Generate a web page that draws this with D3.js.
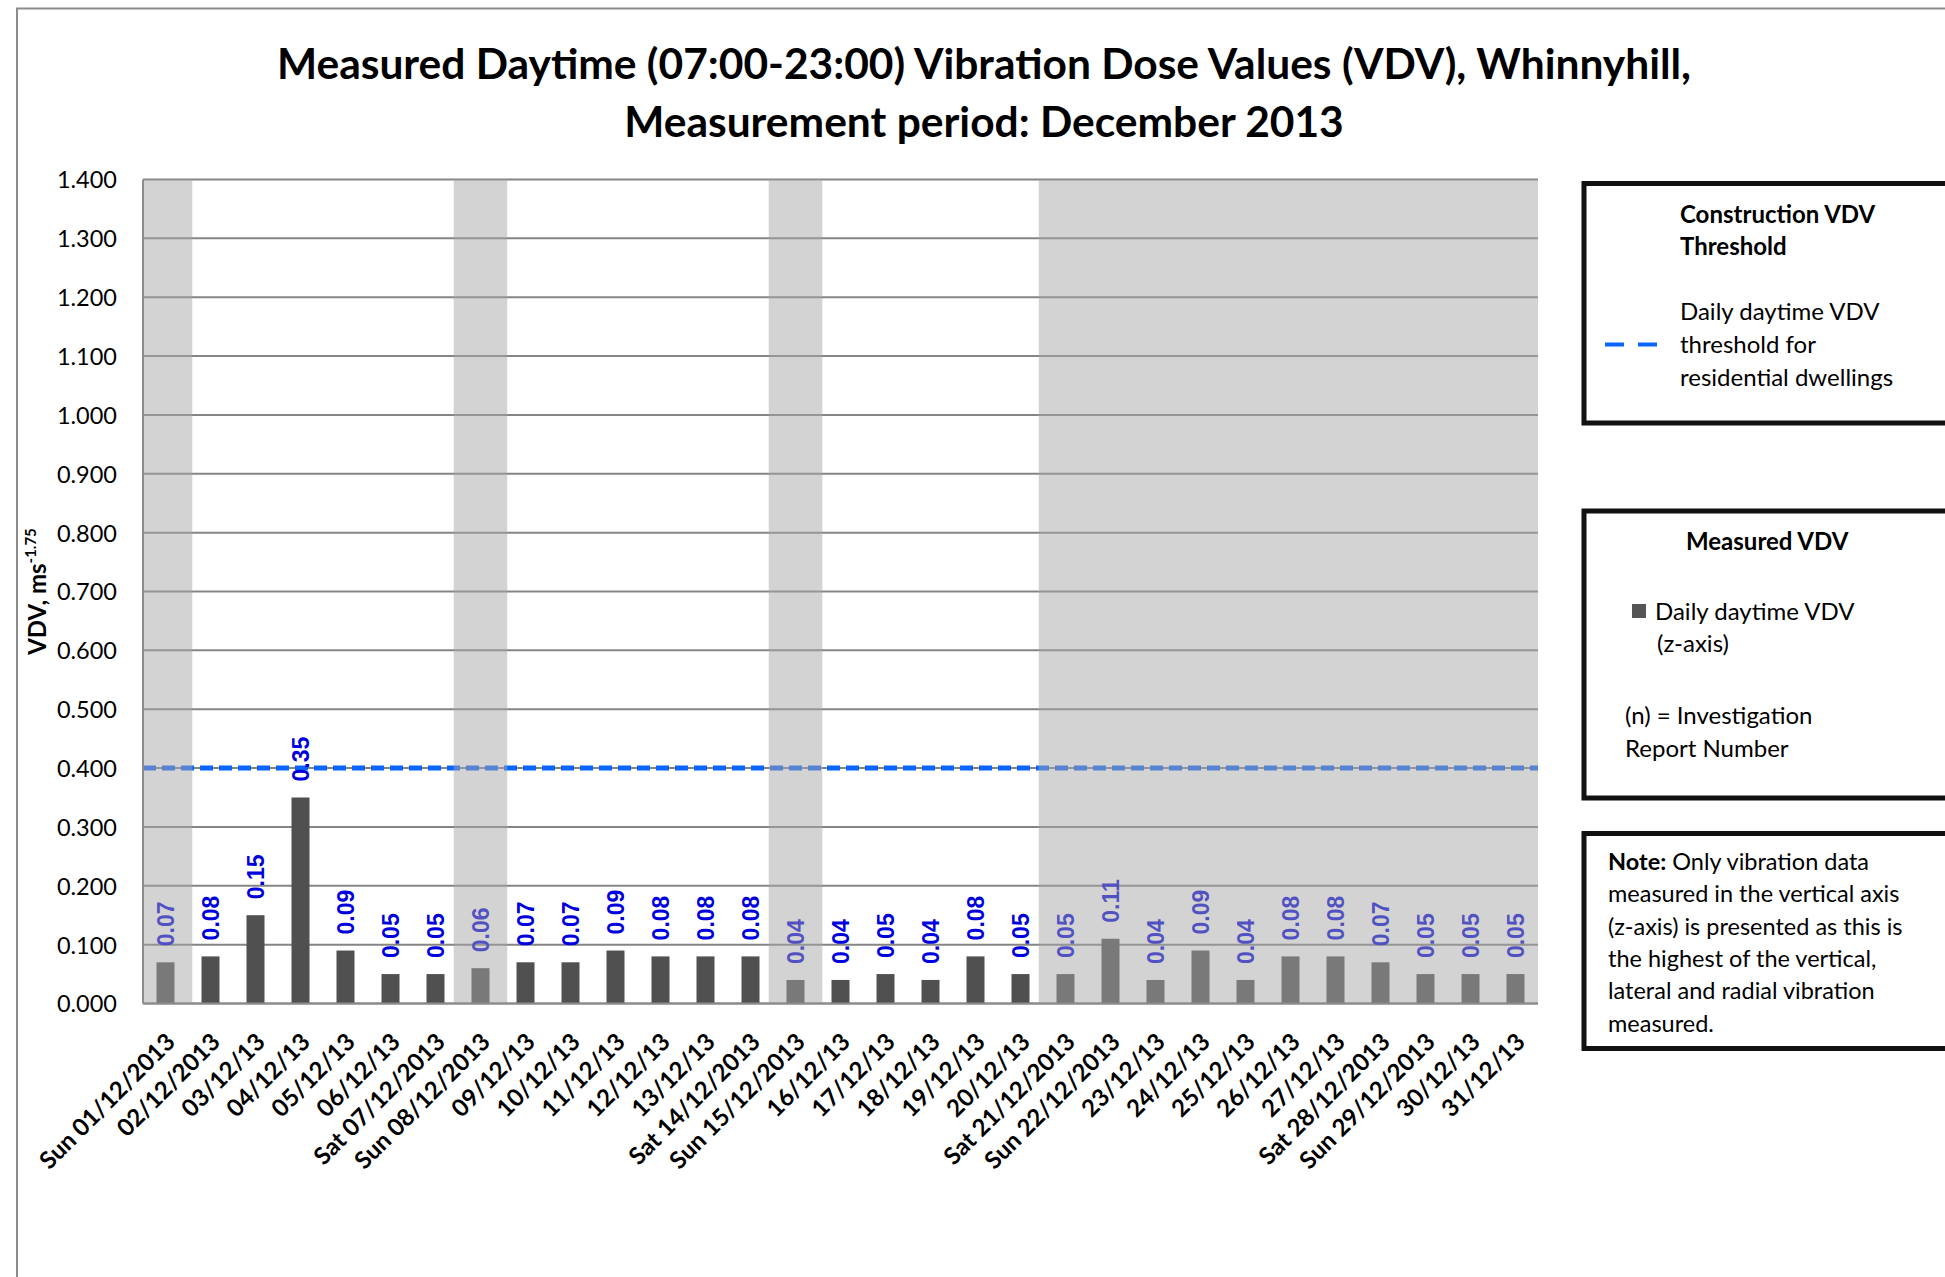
<!DOCTYPE html>
<html>
<head>
<meta charset="utf-8">
<script src="https://cdn.jsdelivr.net/npm/d3@7"></script>
<style>
  html, body { margin: 0; padding: 0; background: #fff; }
  svg { display: block; }
</style>
</head>
<body>
<svg id="chart" width="1945" height="1277"></svg>
<script>
// Daily daytime VDV (z-axis), December 2013
const dayLabels = [
  "Sun 01/12/2013", "02/12/2013", "03/12/13", "04/12/13", "05/12/13", "06/12/13",
  "Sat 07/12/2013", "Sun 08/12/2013", "09/12/13", "10/12/13", "11/12/13", "12/12/13",
  "13/12/13", "Sat 14/12/2013", "Sun 15/12/2013", "16/12/13", "17/12/13", "18/12/13",
  "19/12/13", "20/12/13", "Sat 21/12/2013", "Sun 22/12/2013", "23/12/13", "24/12/13",
  "25/12/13", "26/12/13", "27/12/13", "Sat 28/12/2013", "Sun 29/12/2013", "30/12/13", "31/12/13"
];
const vdvValues = [
  0.07, 0.08, 0.15, 0.35, 0.09, 0.05, 0.05, 0.06, 0.07, 0.07, 0.09, 0.08, 0.08, 0.08, 0.04, 0.04,
  0.05, 0.04, 0.08, 0.05, 0.05, 0.11, 0.04, 0.09, 0.04, 0.08, 0.08, 0.07, 0.05, 0.05, 0.05
];
// Days with no construction activity (Sundays and the holiday period)
const shadedDays = [
  "Sun 01/12/2013", "Sun 08/12/2013", "Sun 15/12/2013",
  "Sat 21/12/2013", "Sun 22/12/2013", "23/12/13", "24/12/13", "25/12/13", "26/12/13",
  "27/12/13", "Sat 28/12/2013", "Sun 29/12/2013", "30/12/13", "31/12/13"
];
const thresholdValue = 0.4;
const yTickValues = [0, 0.1, 0.2, 0.3, 0.4, 0.5, 0.6, 0.7, 0.8, 0.9, 1.0, 1.1, 1.2, 1.3, 1.4];

const titleLines = [
  "Measured Daytime (07:00-23:00) Vibration Dose Values (VDV), Whinnyhill,",
  "Measurement period: December 2013"
];

const svg = d3.select("#chart");
const font = "Lato, 'Open Sans', sans-serif";

const plot = { left: 143, right: 1538, top: 179.5, bottom: 1003.5 };

const x = d3.scaleBand().domain(dayLabels).range([plot.left, plot.right]).padding(0);
const y = d3.scaleLinear().domain([0, 1.4]).range([plot.bottom, plot.top]);

// outer chart frame
svg.append("rect")
  .attr("x", 17).attr("y", 8.5).attr("width", 2000).attr("height", 1400)
  .attr("fill", "none").attr("stroke", "#8c8c8c").attr("stroke-width", 2);

// title
svg.append("g").selectAll("text").data(titleLines).join("text")
  .attr("x", 984).attr("y", (d, i) => 79 + i * 58)
  .attr("text-anchor", "middle")
  .attr("font-family", font).attr("font-weight", 700).attr("font-size", 42.5)
  .attr("fill", "#000")
  .text(d => d);

// horizontal gridlines
svg.append("g").selectAll("line").data(yTickValues).join("line")
  .attr("x1", plot.left).attr("x2", plot.right)
  .attr("y1", d => y(d)).attr("y2", d => y(d))
  .attr("stroke", "#858585").attr("stroke-width", 2);

// y axis labels
const yAxis = d3.axisLeft(y).tickValues(yTickValues).tickFormat(d3.format(".3f")).tickSize(0).tickPadding(26);
const gy = svg.append("g").attr("transform", `translate(${plot.left},0)`).call(yAxis);
gy.select(".domain").remove();
gy.selectAll("text")
  .attr("font-family", font).attr("font-size", 23.5).attr("fill", "#000").attr("dy", "0.36em");

// y axis title
const yTitle = svg.append("text")
  .attr("transform", `translate(46,${(plot.top + plot.bottom) / 2}) rotate(-90)`)
  .attr("text-anchor", "middle")
  .attr("font-family", font).attr("font-weight", 700).attr("font-size", 24)
  .attr("fill", "#000");
yTitle.append("tspan").text("VDV, ms");
yTitle.append("tspan").attr("dy", -10).attr("font-size", 15).text("-1.75");

// bars
const data = dayLabels.map((d, i) => ({ day: d, v: vdvValues[i] }));
const barW = x.bandwidth() * 0.4;
svg.append("g").selectAll("rect").data(data).join("rect")
  .attr("x", d => x(d.day) + (x.bandwidth() - barW) / 2)
  .attr("width", barW)
  .attr("y", d => y(d.v))
  .attr("height", d => y(0) - y(d.v))
  .attr("fill", "#505050");

// threshold line
svg.append("line")
  .attr("x1", plot.left).attr("x2", plot.right)
  .attr("y1", y(thresholdValue)).attr("y2", y(thresholdValue))
  .attr("stroke", "#0a64ff").attr("stroke-width", 5)
  .attr("stroke-dasharray", "13,6");

// value labels
svg.append("g").selectAll("text").data(data).join("text")
  .attr("transform", d => `translate(${x(d.day) + x.bandwidth() / 2},${y(d.v) - 16}) rotate(-90)`)
  .attr("dy", "0.36em")
  .attr("font-family", "'Liberation Sans', Arial, sans-serif")
  .attr("font-weight", 700).attr("font-size", 23)
  .attr("fill", "#0000dc")
  .text(d => d3.format(".2f")(d.v));

// translucent shading over non-working days, merged into contiguous runs
const shadeHalf = x.bandwidth() * 0.595;
const shadedIdx = shadedDays.map(d => dayLabels.indexOf(d)).sort((a, b) => a - b);
const runs = [];
shadedIdx.forEach(i => {
  const last = runs[runs.length - 1];
  if (last && last.end === i - 1) last.end = i;
  else runs.push({ start: i, end: i });
});
const runX0 = r => Math.max(plot.left, x(dayLabels[r.start]) + x.bandwidth() / 2 - shadeHalf);
const runX1 = r => Math.min(plot.right, x(dayLabels[r.end]) + x.bandwidth() / 2 + shadeHalf);
svg.append("g").selectAll("rect").data(runs).join("rect")
  .attr("x", runX0)
  .attr("width", r => runX1(r) - runX0(r))
  .attr("y", plot.top)
  .attr("height", plot.bottom - plot.top)
  .attr("fill", "rgb(166,166,166)").attr("fill-opacity", 0.49);

// axis lines
svg.append("line").attr("x1", plot.left).attr("x2", plot.left)
  .attr("y1", plot.top).attr("y2", plot.bottom)
  .attr("stroke", "#8c8c8c").attr("stroke-width", 2);
svg.append("line").attr("x1", plot.left).attr("x2", plot.right)
  .attr("y1", plot.bottom).attr("y2", plot.bottom)
  .attr("stroke", "#8c8c8c").attr("stroke-width", 2);

// x axis labels
const xAxis = d3.axisBottom(x).tickSize(0);
const gx = svg.append("g").attr("transform", `translate(0,${plot.bottom})`).call(xAxis);
gx.select(".domain").remove();
gx.selectAll("text")
  .attr("x", 0).attr("y", 0).attr("dy", 0)
  .attr("transform", "translate(11,40) rotate(-45)")
  .attr("text-anchor", "end")
  .attr("font-family", font).attr("font-weight", 700).attr("font-size", 24)
  .attr("fill", "#000");

// legend boxes
const boxes = [
  { y: 183.5, h: 239.5 },
  { y: 511, h: 287 },
  { y: 833.5, h: 215 }
];
svg.append("g").selectAll("rect").data(boxes).join("rect")
  .attr("x", 1584).attr("y", d => d.y).attr("width", 420).attr("height", d => d.h)
  .attr("fill", "#fff").attr("stroke", "#111").attr("stroke-width", 5);

function textLine(tx, ty, str, weight) {
  return svg.append("text").attr("x", tx).attr("y", ty)
    .attr("font-family", font).attr("font-size", 24)
    .attr("font-weight", weight || 400).attr("fill", "#000").text(str);
}

// threshold legend
textLine(1680, 223, "Construction VDV", 700);
textLine(1680, 255, "Threshold", 700);
textLine(1680, 320, "Daily daytime VDV");
textLine(1680, 353, "threshold for");
textLine(1680, 386, "residential dwellings");
svg.append("line").attr("x1", 1605).attr("x2", 1658).attr("y1", 344.5).attr("y2", 344.5)
  .attr("stroke", "#0a64ff").attr("stroke-width", 4).attr("stroke-dasharray", "19,14");

// measured VDV legend
textLine(1686, 550, "Measured VDV", 700);
svg.append("rect").attr("x", 1632).attr("y", 604).attr("width", 14).attr("height", 14).attr("fill", "#555");
textLine(1655, 620, "Daily daytime VDV");
textLine(1657, 652, "(z-axis)");
textLine(1625, 724, "(n) = Investigation");
textLine(1625, 757, "Report Number");

// note
const noteLines = [
  "Only vibration data",
  "measured in the vertical axis",
  "(z-axis) is presented as this is",
  "the highest of the vertical,",
  "lateral and radial vibration",
  "measured."
];
noteLines.forEach((str, i) => {
  const t = svg.append("text").attr("x", 1608).attr("y", 870 + i * 32.3)
    .attr("font-family", font).attr("font-size", 23.5).attr("fill", "#000");
  if (i === 0) {
    t.append("tspan").attr("font-weight", 700).text("Note:");
    t.append("tspan").text(" " + str);
  } else {
    t.text(str);
  }
});
</script>
</body>
</html>
